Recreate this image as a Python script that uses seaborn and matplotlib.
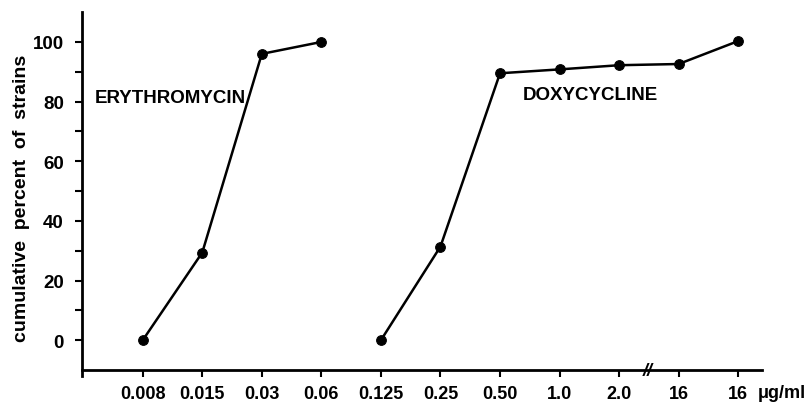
import matplotlib
matplotlib.use("Agg")
import matplotlib.pyplot as plt
import seaborn as sns
import pandas as pd
import numpy as np

# --- data ---
x_labels = ["0.008", "0.015", "0.03", "0.06", "0.125", "0.25", "0.50",
            "1.0", "2.0", "16", "16"]
erythro_conc = ["0.008", "0.015", "0.03", "0.06"]
erythro_pct = [0, 29.4, 96, 100]
doxy_conc = ["0.125", "0.25", "0.50", "1.0", "2.0", "16", "16b"]
doxy_pct = [0, 31.4, 89.5, 90.8, 92.2, 92.6, 100.3]
y_ticks = [0, 20, 40, 60, 80, 100]

sns.set_theme(style="white")
plt.rcParams["font.family"] = ["Liberation Sans", "DejaVu Sans"]
plt.rcParams["font.weight"] = "bold"
plt.rcParams["text.color"] = "black"
plt.rcParams["axes.labelcolor"] = "black"
plt.rcParams["xtick.color"] = "black"
plt.rcParams["ytick.color"] = "black"

pos_e = list(range(len(erythro_conc)))
pos_d = list(range(len(erythro_conc), len(erythro_conc) + len(doxy_conc)))
df = pd.DataFrame({
    "pos": pos_e + pos_d,
    "pct": erythro_pct + doxy_pct,
    "drug": ["ERYTHROMYCIN"] * len(pos_e) + ["DOXYCYCLINE"] * len(pos_d),
})

fig = plt.figure(figsize=(8.11, 4.10), dpi=100)
ax = fig.add_axes([0.1011, 0.0805, 0.8385, 0.8875])

sns.lineplot(data=df, x="pos", y="pct", hue="drug",
             palette=["black", "black"], marker="o", markersize=7,
             markeredgecolor="black", linewidth=1.8, legend=False,
             estimator=None, sort=False, ax=ax)

ax.set_xlim(-1.02, 10.40)
ax.set_ylim(-12, 110)

for s in ["top", "right"]:
    ax.spines[s].set_visible(False)
ax.spines["left"].set_linewidth(2)
ax.spines["bottom"].set_linewidth(2)
ax.spines["left"].set_color("black")
ax.spines["bottom"].set_color("black")
ax.spines["bottom"].set_position(("data", -10))

ax.set_xticks(range(len(x_labels)))
ax.set_xticklabels(x_labels, fontsize=13, fontweight="bold")
ax.set_yticks(y_ticks)
ax.set_yticklabels([str(v) for v in y_ticks], fontsize=13.5, fontweight="bold")
ax.set_yticks([10, 30, 50, 70, 90], minor=True)
ax.tick_params(axis="y", which="major", direction="out", length=5, width=1.5,
               color="black", left=True, pad=8)
ax.tick_params(axis="y", which="minor", direction="out", length=5, width=1.5,
               color="black", left=True)
ax.tick_params(axis="x", direction="out", length=5, width=1.5, color="black",
               bottom=True, pad=6)

ax.set_xlabel("")
ax.set_ylabel("cumulative  percent  of  strains", fontsize=14,
              fontweight="bold")
ax.yaxis.set_label_coords(-0.077, 0.49)

ax.text(-0.81, 81.5, "ERYTHROMYCIN", fontsize=13.5, fontweight="bold",
        va="center", ha="left")
ax.text(6.39, 82.3, "DOXYCYCLINE", fontsize=13.5, fontweight="bold",
        va="center", ha="left")
ax.text(8.48, -10, "//", fontsize=13, fontweight="bold", style="italic",
        ha="center", va="center")
ax.text(10.32, -17.7, "μg/ml", fontsize=13, fontweight="bold",
        ha="left", va="center", clip_on=False)

fig.savefig("out.png", dpi=100)
